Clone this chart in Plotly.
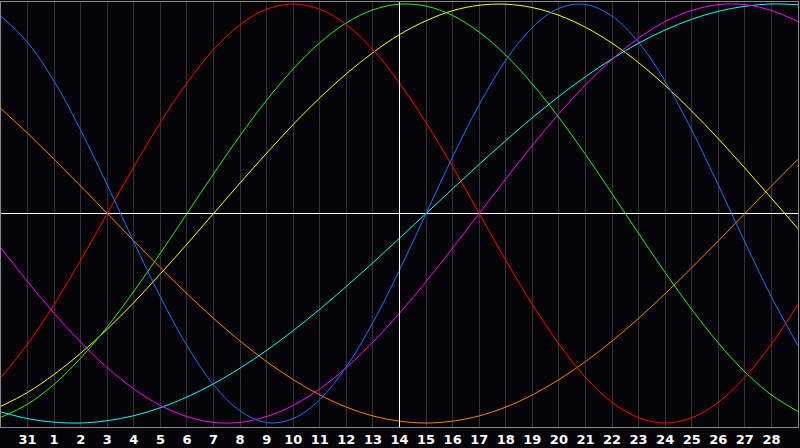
import plotly.graph_objects as go

# day index: -1 .. 29  (0 = the 31st of last month, 1..28 = this month)
days = list(range(-1, 30))
day_labels = ['31'] + [str(d) for d in range(1, 29)]

# cycle values, one per day
physical = [0.942, 0.817, 0.631, 0.398, 0.136, -0.136, -0.398, -0.631, -0.817, -0.942, -0.998, -0.979, -0.888, -0.731,
            -0.520, -0.270, 0, 0.270, 0.520, 0.731, 0.888, 0.979, 0.998, 0.942, 0.817, 0.631, 0.398, 0.136, -0.136,
            -0.398, -0.631]
emotional = [-0.782, -0.623, -0.434, -0.223, 0, 0.223, 0.434, 0.623, 0.782, 0.901, 0.975, 1.000, 0.975, 0.901, 0.782,
             0.623, 0.434, 0.223, 0, -0.223, -0.434, -0.623, -0.782, -0.901, -0.975, -1.000, -0.975, -0.901, -0.782,
             -0.623, -0.434]
intellectual = [-0.972, -0.910, -0.815, -0.690, -0.541, -0.372, -0.189, 0, 0.189, 0.372, 0.541, 0.690, 0.815, 0.910,
                0.972, 0.999, 0.990, 0.945, 0.866, 0.756, 0.618, 0.458, 0.282, 0.095, -0.095, -0.282, -0.458, -0.618,
                -0.756, -0.866, -0.945]
intuitive = [-0.165, -0.325, -0.476, -0.614, -0.736, -0.837, -0.916, -0.969, -0.997, -0.997, -0.969, -0.916, -0.837,
             -0.736, -0.614, -0.476, -0.325, -0.165, 0, 0.165, 0.325, 0.476, 0.614, 0.736, 0.837, 0.916, 0.969, 0.997,
             0.997, 0.969, 0.916]
aesthetic = [-0.920, -0.854, -0.768, -0.667, -0.552, -0.425, -0.288, -0.146, 0, 0.146, 0.288, 0.425, 0.552, 0.667,
             0.768, 0.854, 0.920, 0.968, 0.994, 0.999, 0.983, 0.946, 0.889, 0.813, 0.720, 0.611, 0.489, 0.357, 0.217,
             0.073, -0.073]
awareness = [0.500, 0.383, 0.259, 0.131, 0, -0.131, -0.259, -0.383, -0.500, -0.609, -0.707, -0.793, -0.866, -0.924,
             -0.966, -0.991, -1.000, -0.991, -0.966, -0.924, -0.866, -0.793, -0.707, -0.609, -0.500, -0.383, -0.259,
             -0.131, 0, 0.131, 0.259]
spiritual = [-0.947, -0.979, -0.996, -1.000, -0.989, -0.965, -0.927, -0.876, -0.813, -0.738, -0.653, -0.559, -0.457,
             -0.348, -0.235, -0.118, 0, 0.118, 0.235, 0.348, 0.457, 0.559, 0.653, 0.738, 0.813, 0.876, 0.927, 0.965,
             0.989, 1.000, 0.996]

today = 14

series = [
    ('Awareness', awareness, '#ff8000'),
    ('Spiritual', spiritual, '#00ffff'),
    ('Intuitive', intuitive, '#ff00ff'),
    ('Aesthetic', aesthetic, '#ffff00'),
    ('Intellectual', intellectual, '#22ee22'),
    ('Emotional', emotional, '#ff0000'),
    ('Physical', physical, '#1e6eff'),
]

fig = go.Figure()
for name, vals, col in series:
    fig.add_trace(go.Scatter(x=days, y=vals, name=name, mode='lines',
                             line=dict(color=col, width=1, shape='spline')))

# today marker
fig.add_vline(x=today, line_color='white', line_width=1)

fig.update_layout(
    width=800, height=448,
    margin=dict(l=1, r=1, t=1, b=20),
    paper_bgcolor='#050508',
    plot_bgcolor='#050508',
    showlegend=False,
)
fig.update_xaxes(range=[-1, 29], tickvals=list(range(0, 29)),
                 ticktext=['<b>' + s + '</b>' for s in day_labels],
                 tickfont=dict(family='DejaVu Sans', size=13, color='white'),
                 showgrid=True, gridcolor='#333333', gridwidth=1,
                 showline=True, mirror=True, linecolor='#8a8a8a', linewidth=1,
                 ticks='', zeroline=False)
fig.update_yaxes(range=[-1.019, 1.0095], showticklabels=False,
                 showgrid=False, zeroline=True, zerolinecolor='white', zerolinewidth=1,
                 showline=True, mirror=True, linecolor='#8a8a8a', linewidth=1)

# page has a default body margin, drop it so the chart fills the window
fig.write_html("out.html", config={'displayModeBar': False},
               post_script="document.body.style.margin='0';")
